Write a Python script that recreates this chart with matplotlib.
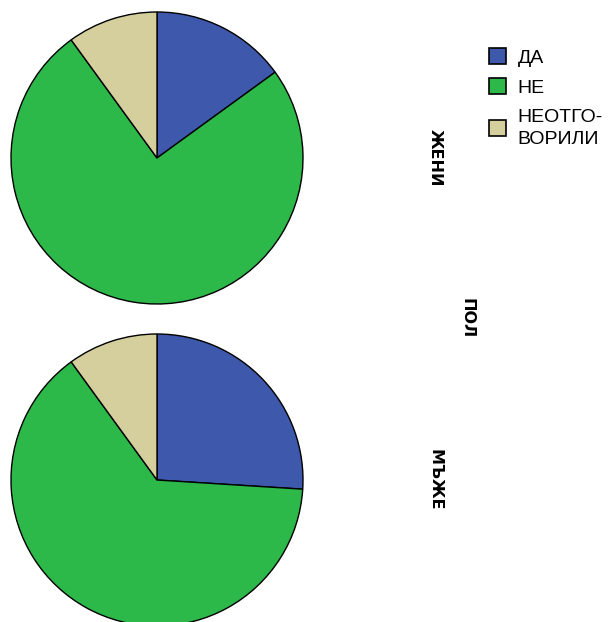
import matplotlib.pyplot as plt
from matplotlib.patches import Patch

categories = ['ДА', 'НЕ', 'НЕОТГО-\nВОРИЛИ']
groups = ['ЖЕНИ', 'МЪЖЕ']
women = [15, 75, 10]
men = [26, 64, 10]
colors = ['#3e58ac', '#2db84a', '#d5cf9e']

W, H = 613, 622
fig = plt.figure(figsize=(W / 100, H / 100), dpi=100)
font = ['Liberation Sans', 'DejaVu Sans']


def pie_axes(cx, cy, r):
    return fig.add_axes([(cx - r) / W, (H - cy - r) / H, 2 * r / W, 2 * r / H])


for (cy, vals, name) in [(158, women, groups[0]), (480, men, groups[1])]:
    ax = pie_axes(157, cy, 146)
    ax.pie(vals, colors=colors, startangle=90, counterclock=False,
           wedgeprops=dict(edgecolor='black', linewidth=1))
    ax.set_aspect('equal')
    ax.set_xlim(-1.0, 1.0)
    ax.set_ylim(-1.0, 1.0)
    fig.text(435 / W, 1 - cy / H, name, rotation=-90, ha='center', va='center',
             fontsize=11.5, fontweight='bold', fontfamily='DejaVu Sans')

fig.text(467 / W, 1 - 318 / H, 'ПОЛ', rotation=-90, ha='center', va='center',
         fontsize=11.5, fontweight='bold', fontfamily='DejaVu Sans')

handles = [Patch(facecolor=c, edgecolor='black', linewidth=1.2) for c in colors]
leg = fig.legend(handles, categories, loc='upper left', bbox_to_anchor=(489 / W, 1 - 48 / H),
                 frameon=False, prop={'family': font, 'size': 14},
                 borderpad=0, borderaxespad=0,
                 handlelength=0.88, handleheight=0.88, handletextpad=0.6, labelspacing=0.6)
leg.get_texts()[2].set_linespacing(1.4)

fig.savefig('out.png', dpi=100)
